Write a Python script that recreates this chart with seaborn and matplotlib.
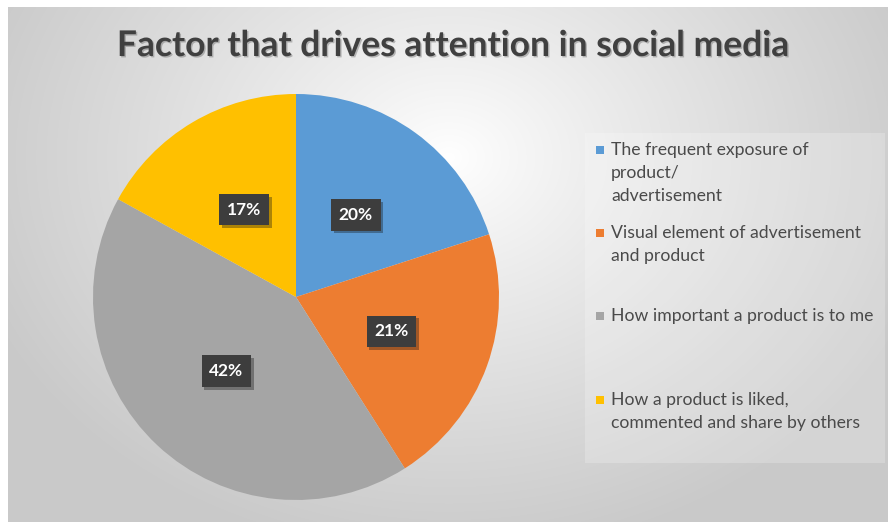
import numpy as np
import matplotlib
matplotlib.use("Agg")
import matplotlib.pyplot as plt
import matplotlib.patheffects as pe
from matplotlib.patches import Rectangle
import seaborn as sns

# Survey results: share of respondents per factor
factors = [
    "The frequent exposure of\nproduct/\nadvertisement",
    "Visual element of advertisement\nand product",
    "How important a product is to me",
    "How a product is liked,\ncommented and share by others",
]
shares = [20, 21, 42, 17]
pct_labels = ["20%", "21%", "42%", "17%"]
slice_colors = ["#5B9BD5", "#ED7D31", "#A5A5A5", "#FFC000"]
title_text = "Factor that drives attention in social media"

sns.set_theme(style="white")
plt.rcParams["font.family"] = ["Lato", "DejaVu Sans"]
palette = sns.color_palette(slice_colors)

W, H = 888, 522
fig = plt.figure(figsize=(W / 100, H / 100), dpi=100)
fig.patch.set_facecolor("white")

# Chart area background: soft radial gradient, white near the top centre
bg = fig.add_axes([8 / W, 0, 1 - 8 / W, 1 - 7 / H], zorder=0)
yy, xx = np.mgrid[0:515, 0:880]
cx, cy = 440, 150
r = np.sqrt(((xx - cx) / 500.0) ** 2 + ((yy - cy) / 400.0) ** 2)
shade = 1.0 - 0.21 * np.clip(r, 0, 1) ** 0.9
bg.imshow(np.dstack([shade] * 3), aspect="auto", extent=(0, 1, 0, 1),
          interpolation="bilinear")
bg.set_axis_off()

# Pie axes
pcx, pcy, rad = 296, 297, 203
ax = fig.add_axes([(pcx - rad) / W, (H - pcy - rad) / H, 2 * rad / W, 2 * rad / H],
                  zorder=2)
wedges, _ = ax.pie(shares, colors=palette, startangle=90, counterclock=False,
                   radius=1.0, wedgeprops=dict(linewidth=0))
ax.set_xlim(-1, 1)
ax.set_ylim(-1, 1)
ax.set_aspect("equal")
ax.set_axis_off()

# Percentage labels in dark boxes at half radius
total = float(sum(shares))
start = 90.0
for val, lab in zip(shares, pct_labels):
    span = 360.0 * val / total
    mid = np.deg2rad(start - span / 2)
    start -= span
    x, y = 0.5 * np.cos(mid), 0.5 * np.sin(mid)
    ax.text(x, y, lab, ha="center", va="center", fontsize=12.5,
            fontweight="bold", color="white", zorder=5,
            bbox=dict(boxstyle="square,pad=0.45", facecolor="#3d3d3d",
                      edgecolor="none",
                      path_effects=[pe.SimplePatchShadow(offset=(2, -2),
                                                         alpha=0.35),
                                    pe.Normal()]))

# Title
fig.text(453 / W, 1 - 46 / H, title_text, ha="center", va="center",
         fontsize=25.5, fontweight="bold", color="#404040", zorder=3,
         path_effects=[pe.withSimplePatchShadow(offset=(1, -1), alpha=0.25)])

# Legend box and entries
fig.patches.append(Rectangle((585 / W, 1 - 463 / H), 300 / W, 330 / H,
                             transform=fig.transFigure, facecolor="white",
                             alpha=0.22, edgecolor="none", zorder=1))
entry_tops = [150, 233, 316, 400]
for color, text, ty in zip(palette, factors, entry_tops):
    fig.patches.append(Rectangle((596 / W, 1 - (ty + 4) / H), 8 / W, 8 / H,
                                 transform=fig.transFigure, facecolor=color,
                                 edgecolor="none", zorder=3))
    fig.text(611 / W, 1 - (ty - 8) / H, text, ha="left", va="top",
             fontsize=12.7, color="#4a4a4a", linespacing=1.52, zorder=3)

fig.savefig("out.png", dpi=100)
